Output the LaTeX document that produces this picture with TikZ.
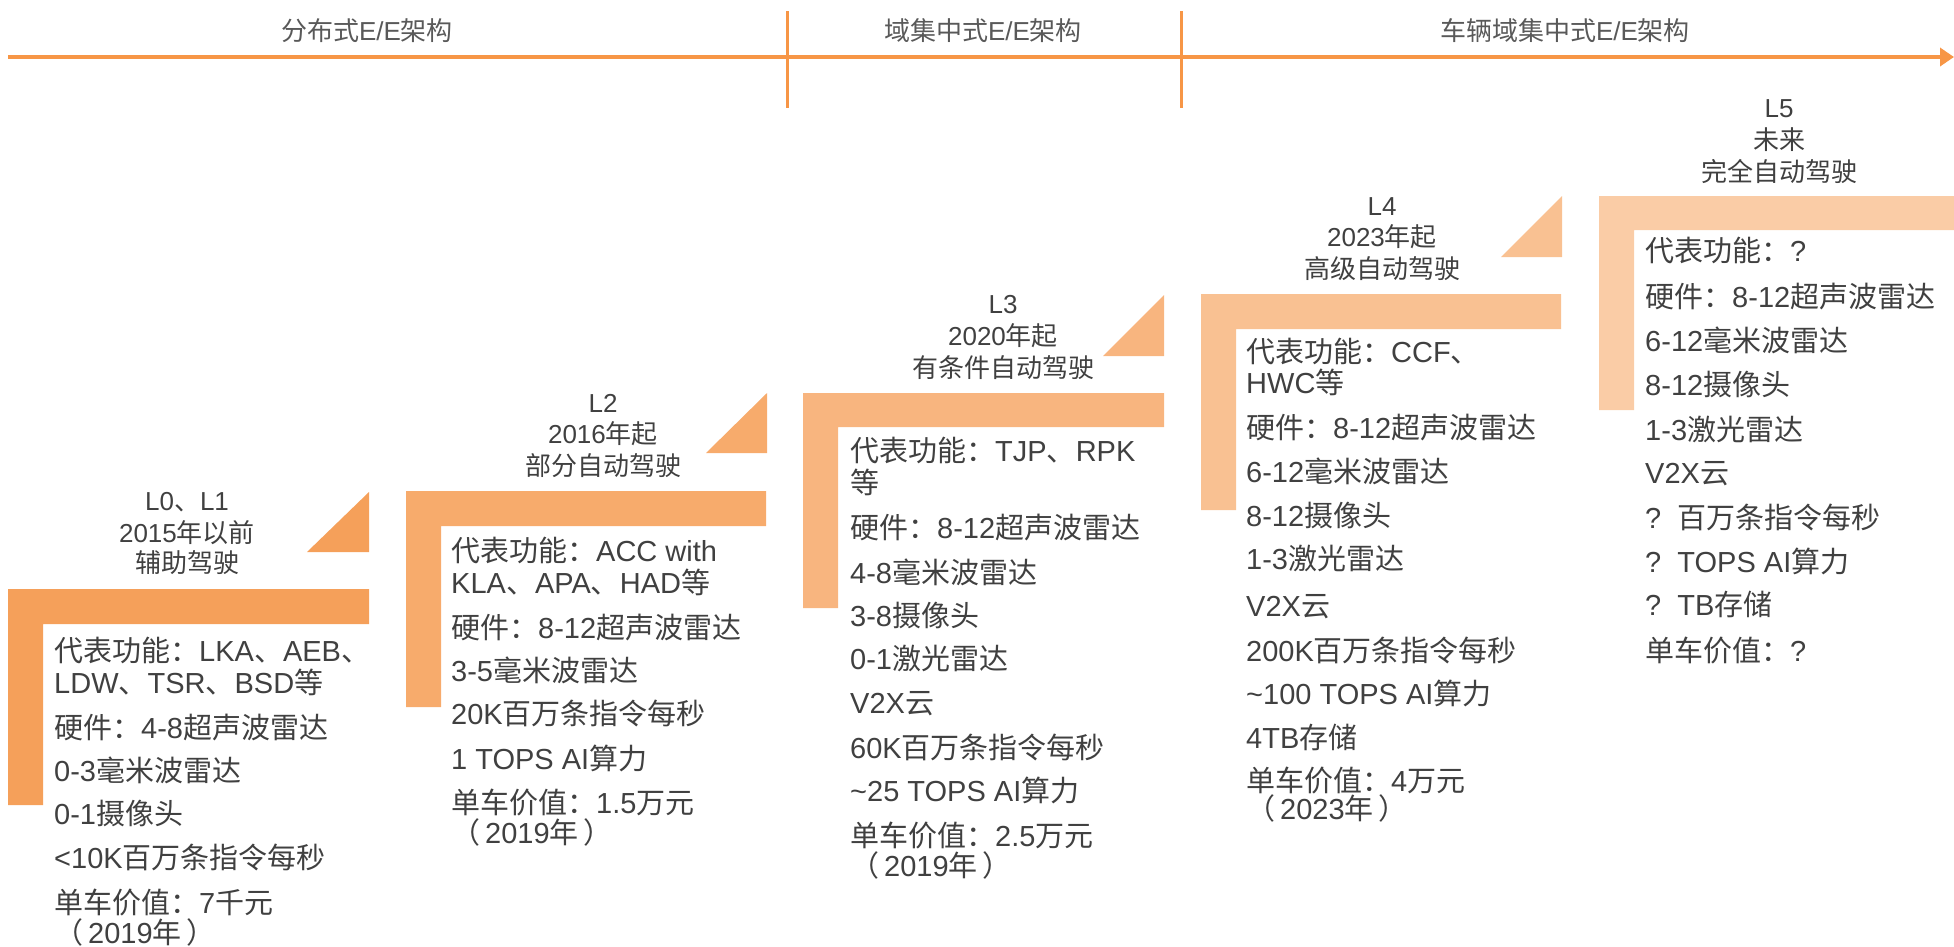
\documentclass[tikz,border=0pt]{standalone}
\usepackage{fontspec}
\usetikzlibrary{arrows.meta}
\setmainfont{Liberation Sans}
\newfontfamily\cjkf{Noto Sans CJK SC}
\newfontfamily\latf{Liberation Sans}
\XeTeXinterchartokenstate=1
\newXeTeXintercharclass\mycjk
\def\setcls#1#2#3{\count255=#1\relax\loop\XeTeXcharclass\count255=#3\relax\ifnum\count255<#2\relax\advance\count255 by 1\relax\repeat}
\setcls{"21}{"7E}{0}
\setcls{"3000}{"303F}{\mycjk}
\setcls{"4E00}{"9FFF}{\mycjk}
\setcls{"FF00}{"FFEF}{\mycjk}
\XeTeXinterchartoks 0 \mycjk = {\cjkf}
\XeTeXinterchartoks 4095 \mycjk = {\cjkf}
\XeTeXinterchartoks \mycjk 0 = {\latf}
\XeTeXinterchartoks \mycjk 4095 = {\latf}
\definecolor{axisc}{HTML}{F79646}
\definecolor{c0}{HTML}{F5A05A}
\definecolor{c2}{HTML}{F7AB6C}
\definecolor{c3}{HTML}{F8B57F}
\definecolor{c4}{HTML}{F9C192}
\definecolor{c5}{HTML}{FACCA6}
\definecolor{txt}{HTML}{404040}
\definecolor{txtl}{HTML}{595959}
\tikzset{
  body/.style={font=\fontsize{29}{29}\selectfont, text=txt, inner sep=0pt, anchor=base west},
  head/.style={font=\fontsize{26}{26}\selectfont, text=txt, inner sep=0pt, anchor=base},
  arch/.style={font=\fontsize{26}{26}\selectfont, text=txtl, inner sep=0pt, anchor=base},
  axisline/.style={draw=axisc, line width=4pt},
  sepline/.style={draw=axisc, line width=3pt},
}
\newcommand\bl[4]{\node[body] (#1) at (#2,#3+11) {#4};}
\newcommand\hl[4]{\node[head] (#1) at (#2,#3+10) {#4};}
\newcommand\yr[1]{（\kern5pt #1年\kern5pt）}
\begin{document}
\begin{tikzpicture}[x=1pt,y=-1pt]
\useasboundingbox (0,0) rectangle (1954,946);
% axis
\coordinate (ax0) at (8,57);
\coordinate (ax1) at (1954,57);
\draw[axisline, -{Triangle[length=14pt,width=18pt]}] (ax0) -- (ax1);
\coordinate (s1a) at (787,11); \coordinate (s1b) at (787,108);
\coordinate (s2a) at (1181,11); \coordinate (s2b) at (1181,108);
\draw[sepline] (s1a) -- (s1b);
\draw[sepline] (s2a) -- (s2b);
\node[arch] (arch1) at (367,40) {分布式E/E架构};
\node[arch] (arch2) at (983,40) {域集中式E/E架构};
\node[arch] (arch3) at (1565,40) {车辆域集中式E/E架构};
% steps
\fill[c0] (8,589) -- (369,589) -- (369,624) -- (43,624) -- (43,805) -- (8,805) -- cycle;
\fill[c0] (369,492) -- (369,552) -- (307,552) -- cycle;
\fill[c2] (406,491) -- (766,491) -- (766,526) -- (441,526) -- (441,707) -- (406,707) -- cycle;
\fill[c2] (767,393) -- (767,453) -- (706,453) -- cycle;
\fill[c3] (803,393) -- (1164,393) -- (1164,427) -- (838,427) -- (838,608) -- (803,608) -- cycle;
\fill[c3] (1164,295) -- (1164,356) -- (1103,356) -- cycle;
\fill[c4] (1201,294) -- (1561,294) -- (1561,329) -- (1236,329) -- (1236,510) -- (1201,510) -- cycle;
\fill[c4] (1562,196) -- (1562,257) -- (1501,257) -- cycle;
\fill[c5] (1599,196) -- (1954,196) -- (1954,230) -- (1634,230) -- (1634,410) -- (1599,410) -- cycle;
% headers
\hl{h0a}{187}{500}{L0、L1}
\hl{h0b}{187}{532}{2015年以前}
\hl{h0c}{187}{562}{辅助驾驶}
\hl{h2a}{603}{402}{L2}
\hl{h2b}{603}{433}{2016年起}
\hl{h2c}{603}{465}{部分自动驾驶}
\hl{h3a}{1003}{303}{L3}
\hl{h3b}{1003}{335}{2020年起}
\hl{h3c}{1003}{367}{有条件自动驾驶}
\hl{h4a}{1382}{205}{L4}
\hl{h4b}{1382}{236}{2023年起}
\hl{h4c}{1382}{268}{高级自动驾驶}
\hl{h5a}{1779}{107}{L5}
\hl{h5b}{1779}{139}{未来}
\hl{h5c}{1779}{171}{完全自动驾驶}
% L0 body
\bl{a1}{54}{650}{代表功能：LKA、AEB、}
\bl{a2}{54}{682}{LDW、TSR、BSD等}
\bl{a3}{54}{727}{硬件：4-8超声波雷达}
\bl{a4}{54}{770}{0-3毫米波雷达}
\bl{a5}{54}{813}{0-1摄像头}
\bl{a6}{54}{857}{<10K百万条指令每秒}
\bl{a7}{54}{902}{单车价值：7千元}
\bl{a8}{54}{932}{\yr{2019}}
% L2 body
\bl{b1}{451}{550}{代表功能：ACC with}
\bl{b2}{451}{582}{KLA、APA、HAD等}
\bl{b3}{451}{627}{硬件：8-12超声波雷达}
\bl{b4}{451}{670}{3-5毫米波雷达}
\bl{b5}{451}{713}{20K百万条指令每秒}
\bl{b6}{451}{758}{1 TOPS AI算力}
\bl{b7}{451}{802}{单车价值：1.5万元}
\bl{b8}{451}{832}{\yr{2019}}
% L3 body
\bl{c1}{850}{450}{代表功能：TJP、RPK}
\bl{c2}{850}{482}{等}
\bl{c3}{850}{527}{硬件：8-12超声波雷达}
\bl{c4}{850}{572}{4-8毫米波雷达}
\bl{c5}{850}{615}{3-8摄像头}
\bl{c6}{850}{658}{0-1激光雷达}
\bl{c7}{850}{702}{V2X云}
\bl{c8}{850}{747}{60K百万条指令每秒}
\bl{c9}{850}{790}{\textasciitilde 25 TOPS AI算力}
\bl{c10}{850}{835}{单车价值：2.5万元}
\bl{c11}{850}{865}{\yr{2019}}
% L4 body
\bl{d1}{1246}{351}{代表功能：CCF、}
\bl{d2}{1246}{382}{HWC等}
\bl{d3}{1246}{427}{硬件：8-12超声波雷达}
\bl{d4}{1246}{471}{6-12毫米波雷达}
\bl{d5}{1246}{515}{8-12摄像头}
\bl{d6}{1246}{558}{1-3激光雷达}
\bl{d7}{1246}{605}{V2X云}
\bl{d8}{1246}{650}{200K百万条指令每秒}
\bl{d9}{1246}{693}{\textasciitilde 100 TOPS AI算力}
\bl{d10}{1246}{737}{4TB存储}
\bl{d11}{1246}{780}{单车价值：4万元}
\bl{d12}{1246}{808}{\yr{2023}}
% L5 body
\bl{e1}{1645}{250}{代表功能：?}
\bl{e2}{1645}{296}{硬件：8-12超声波雷达}
\bl{e3}{1645}{340}{6-12毫米波雷达}
\bl{e4}{1645}{384}{8-12摄像头}
\bl{e5}{1645}{429}{1-3激光雷达}
\bl{e6}{1645}{472}{V2X云}
\bl{e7}{1645}{517}{?\ \ 百万条指令每秒}
\bl{e8}{1645}{561}{?\ \ TOPS AI算力}
\bl{e9}{1645}{604}{?\ \ TB存储}
\bl{e10}{1645}{650}{单车价值：?}
\end{tikzpicture}
\end{document}
